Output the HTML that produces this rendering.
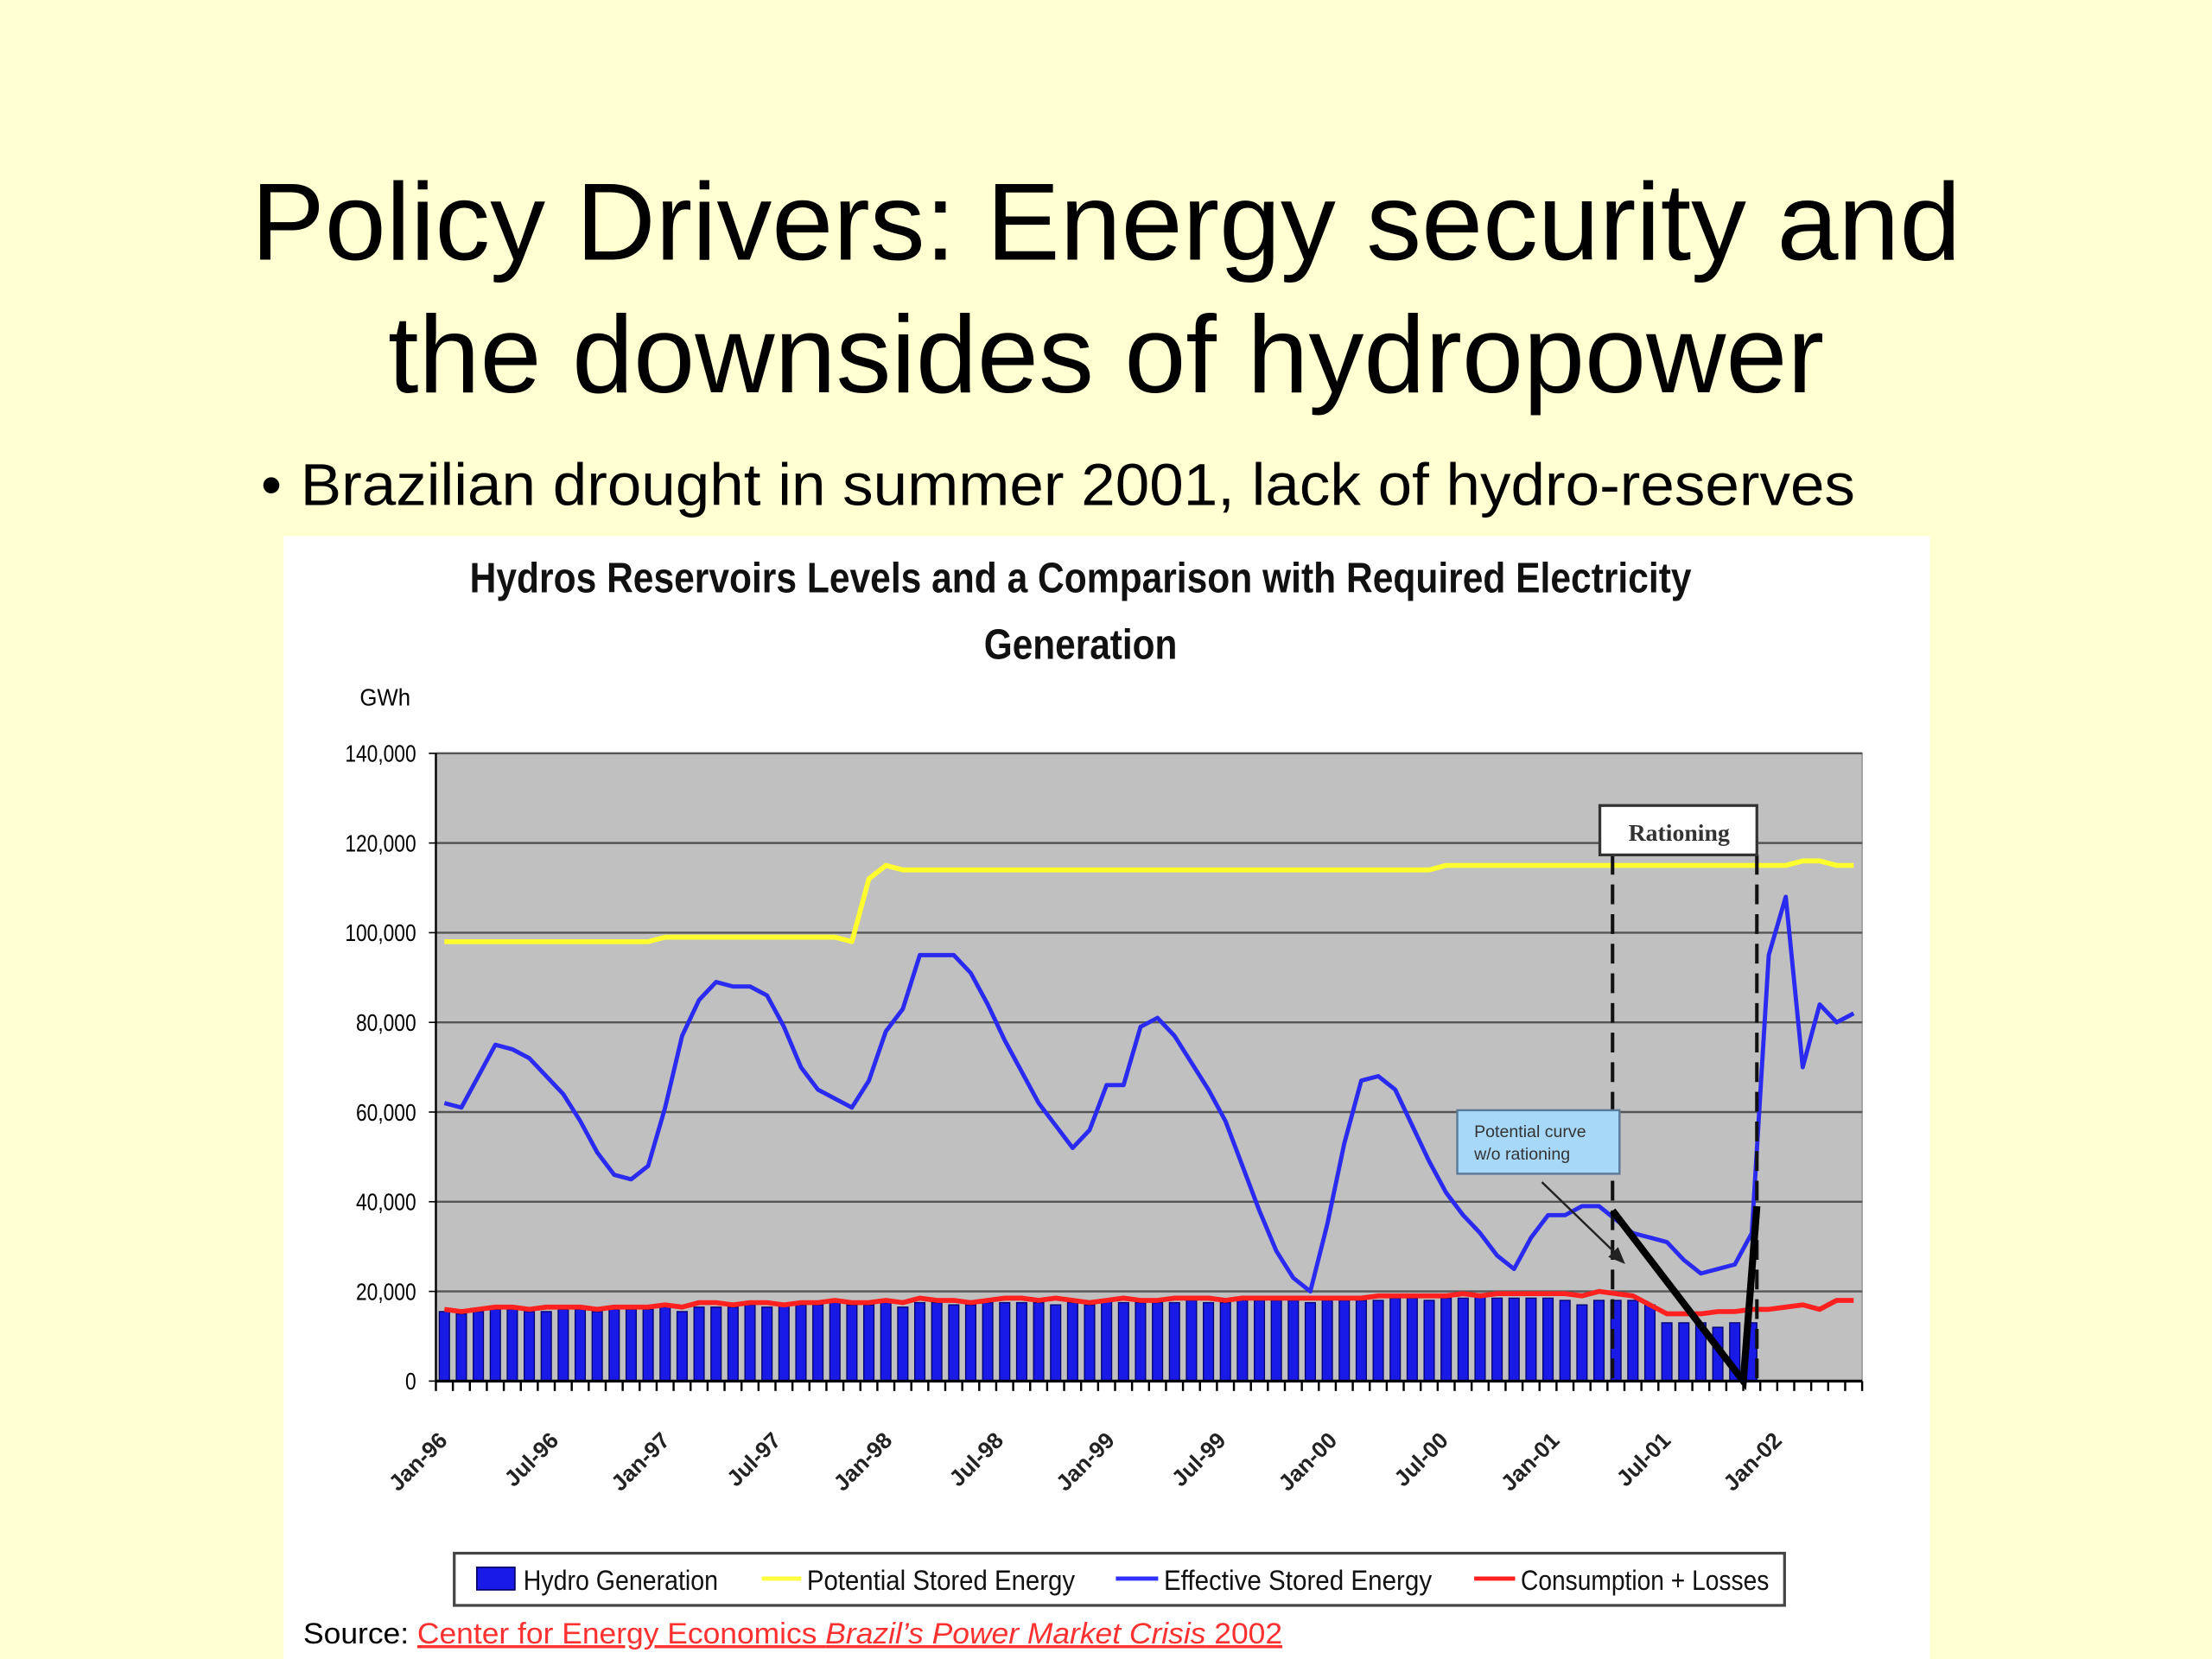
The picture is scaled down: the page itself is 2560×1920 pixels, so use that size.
<!DOCTYPE html>
<html><head><meta charset="utf-8"><style>
html,body{margin:0;padding:0;background:#FFFFD2;}
svg{display:block;}
</style></head><body>
<svg id="root" width="2560" height="1920" viewBox="0 0 1568 1176" xmlns="http://www.w3.org/2000/svg">
<rect x="0" y="0" width="1568" height="1176" fill="#FFFFD2"/>
<g font-family="'Liberation Sans', sans-serif" fill="#000">
<text x="784" y="184" font-size="78" text-anchor="middle" textLength="1212" lengthAdjust="spacingAndGlyphs">Policy Drivers: Energy security and</text>
<text x="784" y="278" font-size="78" text-anchor="middle" textLength="1018" lengthAdjust="spacingAndGlyphs">the downsides of hydropower</text>
<text x="185" y="358" font-size="42">•</text>
<text x="213" y="358" font-size="42" textLength="1102" lengthAdjust="spacingAndGlyphs">Brazilian drought in summer 2001, lack of hydro-reserves</text>
</g>
<rect x="201" y="380" width="1167" height="796" fill="#ffffff"/>
<g font-family="'Liberation Sans', sans-serif" font-weight="bold" fill="#111">
<text x="766" y="420" font-size="30" text-anchor="middle" textLength="866" lengthAdjust="spacingAndGlyphs">Hydros Reservoirs Levels and a Comparison with Required Electricity</text>
<text x="766" y="467" font-size="30" text-anchor="middle" textLength="137" lengthAdjust="spacingAndGlyphs">Generation</text>
</g>
<text x="255" y="500" font-size="17" font-family="'Liberation Sans', sans-serif" textLength="36" lengthAdjust="spacingAndGlyphs">GWh</text>
<rect x="309" y="534" width="1011" height="445" fill="#c0c0c0" stroke="#999"/>
<g id="grid"></g><g id="bars"></g><g id="lines"></g><g id="axes"></g><g id="annot"></g>
<g>
<rect x="322" y="1101" width="943" height="37" fill="#fff" stroke="#444" stroke-width="2"/>
<g font-family="'Liberation Sans', sans-serif" font-size="20" fill="#111">
<rect x="338" y="1111" width="27" height="16" fill="#1a1ae6" stroke="#000060"/>
<text x="371" y="1127" textLength="138" lengthAdjust="spacingAndGlyphs">Hydro Generation</text>
<line x1="540" y1="1119" x2="568" y2="1119" stroke="#ffff40" stroke-width="3"/>
<text x="572" y="1127" textLength="190" lengthAdjust="spacingAndGlyphs">Potential Stored  Energy</text>
<line x1="791" y1="1119" x2="821" y2="1119" stroke="#3030ff" stroke-width="3"/>
<text x="825" y="1127" textLength="190" lengthAdjust="spacingAndGlyphs">Effective Stored  Energy</text>
<line x1="1045" y1="1119" x2="1074" y2="1119" stroke="#ff2020" stroke-width="3"/>
<text x="1078" y="1127" textLength="176" lengthAdjust="spacingAndGlyphs">Consumption + Losses</text>
</g></g>
<text x="215" y="1165" font-size="21" font-family="'Liberation Sans', sans-serif" textLength="694" lengthAdjust="spacingAndGlyphs">Source: <tspan fill="#ff3030" text-decoration="underline">Center for Energy Economics <tspan font-style="italic">Brazil’s Power Market Crisis</tspan> 2002</tspan></text>
</svg>
<script>
const effective=[62,61,68,75,74,72,68,64,58,51,46,45,48,61,77,85,89,88,88,86,79,70,65,63,61,67,78,83,95,95,95,91,84,76,69,62,57,52,56,66,66,79,81,77,71,65,58,48,38,29,23,20,35,53,67,68,65,57,49,42,37,33,28,25,32,37,37,39,39,36,33,32,31,27,24,25,26,33,95,108,70,84,80,82];
const potential=[98,98,98,98,98,98,98,98,98,98,98,98,98,99,99,99,99,99,99,99,99,99,99,99,98,112,115,114,114,114,114,114,114,114,114,114,114,114,114,114,114,114,114,114,114,114,114,114,114,114,114,114,114,114,114,114,114,114,114,115,115,115,115,115,115,115,115,115,115,115,115,115,115,115,115,115,115,115,115,115,116,116,115,115];
const consumption=[16,15.5,16,16.5,16.5,16,16.5,16.5,16.5,16,16.5,16.5,16.5,17,16.5,17.5,17.5,17,17.5,17.5,17,17.5,17.5,18,17.5,17.5,18,17.5,18.5,18,18,17.5,18,18.5,18.5,18,18.5,18,17.5,18,18.5,18,18,18.5,18.5,18.5,18,18.5,18.5,18.5,18.5,18.5,18.5,18.5,18.5,19,19,19,19,19,19.5,19,19.5,19.5,19.5,19.5,19.5,19,20,19.5,19,17,15,15,15,15.5,15.5,16,16,16.5,17,16,18,18];
const hydro=[15.5,15,15.5,16,16,15.5,15.5,16,16,15.5,16,16,16,16.5,15.5,16.5,16.5,16.5,17,16.5,17,17,17,17.5,17,17,17.5,16.5,17.5,17.5,17,17,17.5,17.5,17.5,17.5,17,17.5,17,18,17.5,17.5,17.5,17.5,18,17.5,17.5,18,18,18,18,17.5,18,18,18,18,18.5,18.5,18,18.5,18.5,19,18.5,18.5,18.5,18.5,18,17,18,18,18,17,13,13,13,12,13,13,null,null,null,null,null,null];
const yTicks=[0,20000,40000,60000,80000,100000,120000,140000];
const yTickLabels=["0","20,000","40,000","60,000","80,000","100,000","120,000","140,000"];
const xLabels=["Jan-96","Jul-96","Jan-97","Jul-97","Jan-98","Jul-98","Jan-99","Jul-99","Jan-00","Jul-00","Jan-01","Jul-01","Jan-02"];
const xLabelSlots=[0,6.55,13.1,19.65,26.2,32.75,39.3,45.85,52.4,58.95,65.5,72.05,78.6];
const rationingSlots=[68.8,77.3];
const potentialCurveSlots=[68.8,76.5,77.3];
const potentialCurveValues=[38,0,39];
const NS="http://www.w3.org/2000/svg";
const X0=309,X1=1320,Y0=979,Y1=534,N=84,STEP=(X1-X0)/N;
function x(i){return X0+STEP*(i+0.5);}
function y(v){return Y0-(v/140)*(Y0-Y1);}
function mk(tag,attrs,parent){const e=document.createElementNS(NS,tag);for(const k in attrs)e.setAttribute(k,attrs[k]);parent.appendChild(e);return e;}
const grid=document.getElementById('grid'),bars=document.getElementById('bars'),lines=document.getElementById('lines'),axes=document.getElementById('axes'),annot=document.getElementById('annot');
yTicks.forEach((t,k)=>{
 const gy=y(t/1000);
 if(t>0){const l=mk('line',{x1:X0,x2:X1,y1:gy,y2:gy,stroke:'#555','stroke-width':1.5},grid);
 
 }
 const tk=mk('line',{x1:X0-5,x2:X0,y1:gy,y2:gy,stroke:'#000'},axes);
 
 
 const tx=mk('text',{x:295,y:gy+6,'font-size':17,'text-anchor':'end','font-family':"'Liberation Sans',sans-serif",transform:'translate('+(295*0.18)+',0) scale(0.82,1)'},axes);
 tx.textContent=yTickLabels[k];
 
 
});
hydro.forEach((v,i)=>{
 if(v==null)return;
 const r=mk('rect',{x:x(i)-3.6,y:y(v),width:7.2,height:Y0-y(v),fill:'#1a1ae6',stroke:'#000070','stroke-width':0.8},bars);
 
 
});
function poly(arr,color,name,w){
 const pts=arr.map((v,i)=>x(i)+','+y(v)).join(' ');
 const p=mk('polyline',{points:pts,fill:'none',stroke:color,'stroke-width':w,'stroke-linejoin':'round'},lines);
 
 
}
poly(potential,'#ffff30','line-potential-stored-energy',3.5);
poly(consumption,'#ff2020','line-consumption-losses',3.5);
poly(effective,'#2a2af0','line-effective-stored-energy',3);
const ax=mk('line',{x1:X0,x2:X1,y1:Y0,y2:Y0,stroke:'#000','stroke-width':2},axes);


const ay=mk('line',{x1:X0,x2:X0,y1:Y1,y2:Y0,stroke:'#000','stroke-width':1.5},axes);


for(let i=0;i<=N;i++){
 const t=mk('line',{x1:X0+STEP*i,x2:X0+STEP*i,y1:Y0,y2:Y0+7,stroke:'#000','stroke-width':1.5},axes);
 
 
}
xLabels.forEach((lab,k)=>{
 const lx=x(xLabelSlots[k])+3,ly=1022;
 const t=mk('text',{x:lx,y:ly,'font-size':16,'text-anchor':'end',transform:'rotate(-45 '+lx+' '+ly+')','font-family':"'Liberation Sans',sans-serif",'font-weight':'bold',fill:'#222'},axes);
 t.textContent=lab;
 
 
});
rationingSlots.forEach((s,k)=>{
 const d=mk('line',{x1:x(s),x2:x(s),y1:606,y2:Y0,stroke:'#111','stroke-width':2.5,'stroke-dasharray':'14 7'},annot);
 
 
});
const pc=mk('polyline',{points:potentialCurveSlots.map((s,k)=>x(s)+','+y(potentialCurveValues[k])).join(' '),fill:'none',stroke:'#000','stroke-width':5,'stroke-linejoin':'miter'},annot);


const rb=mk('rect',{x:x(rationingSlots[0])-9,y:571,width:x(rationingSlots[1])-x(rationingSlots[0])+9,height:35,fill:'#fff',stroke:'#333','stroke-width':2},annot);


const rt=mk('text',{x:(x(rationingSlots[0])+x(rationingSlots[1]))/2-4,y:596,'font-size':17,'font-weight':'bold','text-anchor':'middle','font-family':"'Liberation Serif',serif",fill:'#333'},annot);
rt.textContent='Rationing';


const cb=mk('rect',{x:1033,y:787,width:115,height:45,fill:'#a8d8f8',stroke:'#5a7a9a','stroke-width':1.5},annot);


const c1=mk('text',{x:1045,y:806,'font-size':12,fill:'#333','font-family':"'Liberation Sans',sans-serif"},annot);
c1.textContent='Potential curve';


const c2=mk('text',{x:1045,y:822,'font-size':12,fill:'#333','font-family':"'Liberation Sans',sans-serif"},annot);
c2.textContent='w/o rationing';


const ar=mk('line',{x1:1093,y1:838,x2:1150,y2:893,stroke:'#222','stroke-width':1.5},annot);


const ah=mk('polygon',{points:'1152,896 1140,891 1147,884',fill:'#222'},annot);


</script>
</body></html>
